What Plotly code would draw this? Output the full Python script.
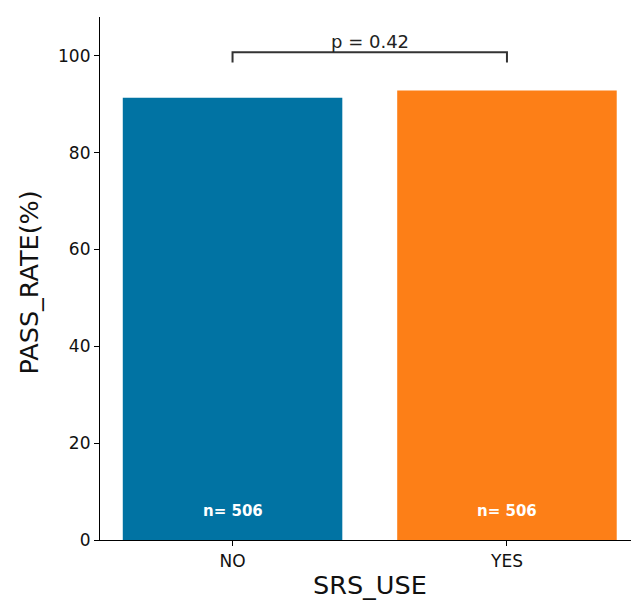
import plotly.graph_objects as go

categories = ["NO", "YES"]
pass_rate = [91.3, 92.8]
counts = [506, 506]
bar_colors = ["#0173a3", "#fd7f17"]
p_value = 0.42
y_ticks = [0, 20, 40, 60, 80, 100]

FONT = "DejaVu Sans"

fig = go.Figure()
fig.add_trace(go.Bar(
    x=[0, 1], y=pass_rate, width=0.8,
    marker=dict(color=bar_colors, line=dict(width=0)),
    hoverinfo="skip",
))

# n labels inside bars
for i, n in enumerate(counts):
    fig.add_annotation(x=i, y=6, xref="x", yref="y", text=f"<b>n= {n}</b>",
                       showarrow=False, font=dict(family=FONT, size=15, color="white"),
                       xanchor="center", yanchor="middle")

# significance bracket
bracket_y = max(pass_rate) + 7.9
drop = 2.1
fig.add_shape(type="path",
              path=f"M 0 {bracket_y - drop} L 0 {bracket_y} L 1 {bracket_y} L 1 {bracket_y - drop}",
              xref="x", yref="y", line=dict(color="#333333", width=2))
fig.add_annotation(x=0.5, y=bracket_y, xref="x", yref="y", text=f"p = {p_value}",
                   showarrow=False, font=dict(family=FONT, size=18, color="#222222"),
                   xanchor="center", yanchor="bottom", yshift=-2)

# axis titles
fig.add_annotation(x=0.5, y=0, xref="x", yref="paper", text="SRS_USE", showarrow=False,
                   font=dict(family=FONT, size=25.5, color="#111111"),
                   xanchor="center", yanchor="middle", yshift=-45)
fig.add_annotation(x=0, y=0.5, xref="paper", yref="paper", text="PASS_RATE(%)", showarrow=False,
                   textangle=-90, font=dict(family=FONT, size=25.5, color="#111111"),
                   xanchor="center", yanchor="middle", xshift=-72, yshift=-4)

fig.update_layout(
    width=631, height=601,
    margin=dict(l=100, r=0, t=17, b=61),
    paper_bgcolor="white", plot_bgcolor="white",
    showlegend=False,
    font=dict(family=FONT, size=17, color="#111111"),
    xaxis=dict(range=[-0.483, 1.452], tickmode="array", tickvals=[0, 1], ticktext=categories,
               showline=True, linecolor="black", linewidth=1.2, ticks="outside", ticklen=5,
               tickcolor="black", showgrid=False, zeroline=False, fixedrange=True),
    yaxis=dict(range=[0, 108], tickmode="array", tickvals=y_ticks,
               showline=True, linecolor="black", linewidth=1.2, ticks="outside", ticklen=5,
               tickcolor="black", showgrid=False, zeroline=False, fixedrange=True),
)

fig.write_html("out.html")
